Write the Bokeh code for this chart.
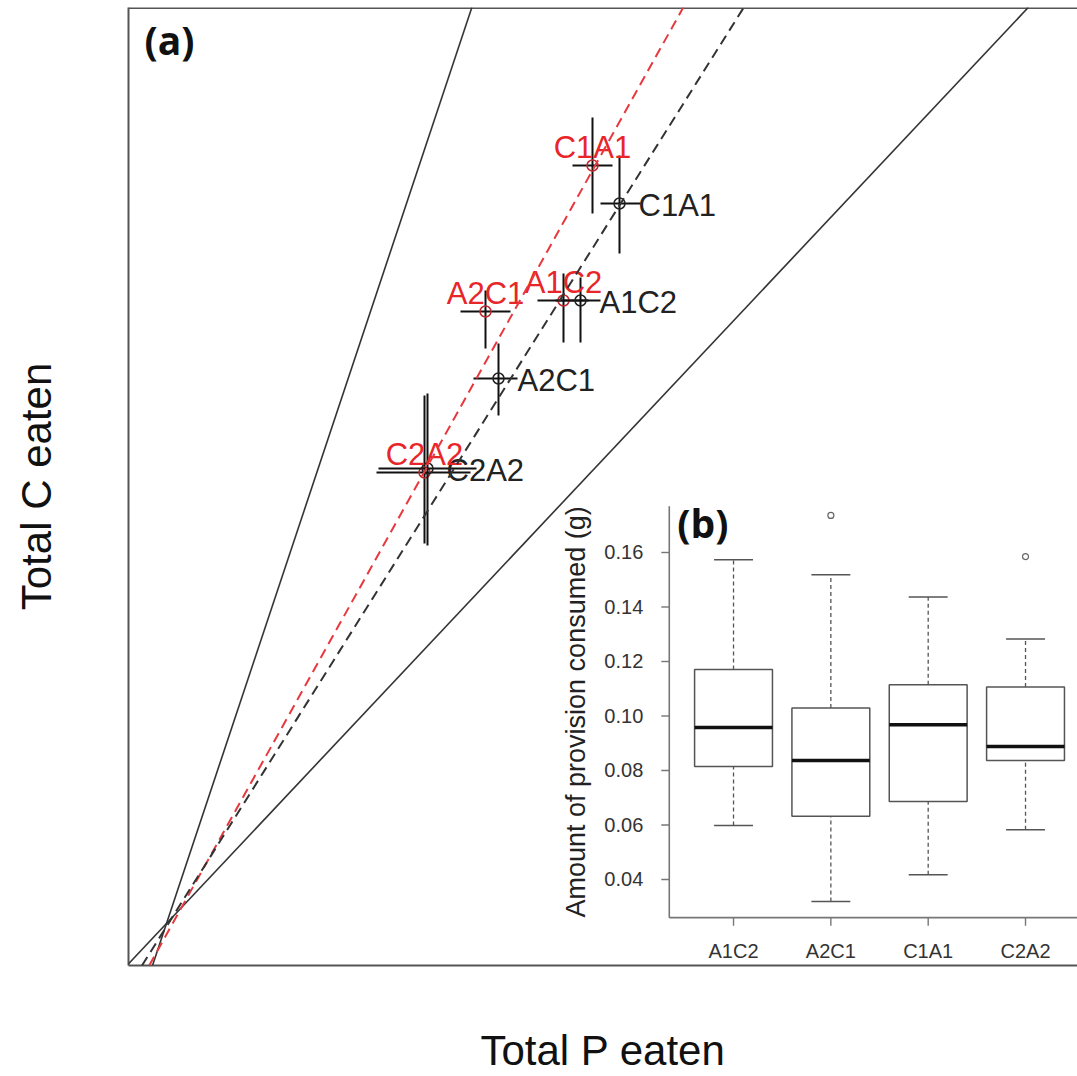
import numpy as np
from bokeh.plotting import figure
from bokeh.models import Range1d, FixedTicker, Span, ColumnDataSource, Slope
from bokeh.transform import dodge
from bokeh.core.properties import value
from bokeh.embed import file_html
from bokeh.resources import INLINE

# ---------------- Panel (a) data ----------------
groups = ["C1A1", "A1C2", "A2C1", "C2A2"]
# black series (Total P eaten, Total C eaten) with error-bar limits
blk_p = [4.53, 4.14, 3.32, 2.61]
blk_c = [7.20, 6.23, 5.45, 4.55]
blk_p_lo = [4.34, 3.89, 3.07, 2.12]
blk_p_hi = [4.74, 4.34, 3.51, 3.10]
blk_c_lo = [6.70, 5.81, 5.08, 3.78]
blk_c_hi = [7.68, 6.46, 5.80, 5.30]
# red series
red_p = [4.26, 3.97, 3.19, 2.58]
red_c = [7.58, 6.23, 6.12, 4.51]
red_p_lo = [4.06, 3.71, 2.94, 2.10]
red_p_hi = [4.46, 4.22, 3.44, 3.04]
red_c_lo = [7.10, 5.81, 5.75, 3.80]
red_c_hi = [8.06, 6.50, 6.33, 5.28]
# reference lines (gradient, intercept)
solid_slopes = [3.0, 1.063]
solid_intercepts = [0.0, 0.0]
blk_fit = (1.592, -0.03)
red_fit = (1.794, -0.11)
main_xlim = (-0.38, 9.11)
main_ylim = (-0.42, 9.16)

# ---------------- Panel (b) data ----------------
box_groups = ["A1C2", "A2C1", "C1A1", "C2A2"]
box_pos = [1, 2, 3, 4]
box_lo = [0.0598, 0.0319, 0.0417, 0.0583]
box_q1 = [0.0815, 0.0632, 0.0686, 0.0837]
box_med = [0.0958, 0.0837, 0.0968, 0.0888]
box_q3 = [0.1171, 0.1029, 0.1115, 0.1106]
box_hi = [0.1573, 0.1518, 0.1437, 0.1283]
out_pos = [2, 4]
out_val = [0.1736, 0.1585]
inset_yticks = [0.04, 0.06, 0.08, 0.10, 0.12, 0.14, 0.16]
inset_ytick_labels = ["0.04", "0.06", "0.08", "0.10", "0.12", "0.14", "0.16"]
inset_xlim = (0.34, 4.66)
inset_ylim = (0.026, 0.177)
# inset coordinate system spread over the whole main frame
inset_frame_x = (-5.216, 4.534)
inset_frame_y = (0.00844, 0.36)

FONT = "Liberation Sans"

p = figure(width=1077, height=1076,
           x_range=Range1d(*main_xlim), y_range=Range1d(*main_ylim),
           output_backend="svg", toolbar_location=None,
           min_border_left=128, min_border_right=0,
           min_border_top=7, min_border_bottom=0)
p.grid.visible = False
p.outline_line_color = None
p.background_fill_color = "white"
p.border_fill_color = "white"

for ax in (p.xaxis[0], p.yaxis[0]):
    ax.ticker = FixedTicker(ticks=[])
    ax.major_tick_line_color = None
    ax.minor_tick_line_color = None
    ax.major_label_text_font_size = "0px"
    ax.axis_line_color = "#555555"
    ax.axis_line_width = 2
    ax.axis_label_text_font = FONT
    ax.axis_label_text_font_size = "42px"
    ax.axis_label_text_font_style = "normal"
    ax.axis_label_text_color = "#111111"
p.xaxis.axis_label = "Total P eaten"
p.yaxis.axis_label = "Total C eaten"
p.xaxis.axis_label_standoff = 61
p.yaxis.axis_label_standoff = 69

p.add_layout(Span(location=main_ylim[1], dimension="width",
                  line_color="#555555", line_width=3))

# reference lines
for g, b in zip(solid_slopes, solid_intercepts):
    p.add_layout(Slope(gradient=g, y_intercept=b, line_color="#333333", line_width=1.6))
p.add_layout(Slope(gradient=red_fit[0], y_intercept=red_fit[1],
                   line_color="#e8383d", line_width=2, line_dash="10 6"))
p.add_layout(Slope(gradient=blk_fit[0], y_intercept=blk_fit[1],
                   line_color="#333333", line_width=2, line_dash="10 6"))

src_blk = ColumnDataSource(dict(g=groups, p=blk_p, c=blk_c, plo=blk_p_lo, phi=blk_p_hi,
                                clo=blk_c_lo, chi=blk_c_hi))
src_red = ColumnDataSource(dict(g=groups, p=red_p, c=red_c, plo=red_p_lo, phi=red_p_hi,
                                clo=red_c_lo, chi=red_c_hi))

for src, col in ((src_red, "#c0282d"), (src_blk, "#222222")):
    p.segment(x0="plo", x1="phi", y0="c", y1="c", source=src, line_color="#111111", line_width=2)
    p.segment(x0="p", x1="p", y0="clo", y1="chi", source=src, line_color="#111111", line_width=2)
    p.scatter(x="p", y="c", source=src, marker="circle", size=11, fill_color=None,
              line_color=col, line_width=1.5)

p.text(x="p", y="c", text="g", source=src_blk, x_offset=19, y_offset=2,
       text_align="left", text_baseline="middle", text_font=value(FONT),
       text_font_size="31px", text_color="#222222")
p.text(x="p", y="c", text="g", source=src_red, x_offset=0, y_offset=-18,
       text_align="center", text_baseline="alphabetic", text_font=value(FONT),
       text_font_size="31px", text_color="#e8262a")

p.text(x=[main_xlim[0]], y=[main_ylim[1]], text=["(a)"], x_offset=16, y_offset=5,
       text_align="left", text_baseline="top", text_font=value("Open Sans"),
       text_font_style="bold", text_font_size="39px", text_color="#111111")

# ---------------- inset (b) ----------------
p.extra_x_ranges = {"ix": Range1d(*inset_frame_x)}
p.extra_y_ranges = {"iy": Range1d(*inset_frame_y)}
kw = dict(x_range_name="ix", y_range_name="iy")

src_b = ColumnDataSource(dict(idx=box_pos, lo=box_lo, q1=box_q1, med=box_med,
                              q3=box_q3, hi=box_hi, name=box_groups))
p.segment(x0="idx", x1="idx", y0="q3", y1="hi", source=src_b, line_color="#555555",
          line_width=1.3, line_dash="4 3", **kw)
p.segment(x0="idx", x1="idx", y0="lo", y1="q1", source=src_b, line_color="#555555",
          line_width=1.3, line_dash="4 3", **kw)
p.segment(x0=dodge("idx", -0.2), x1=dodge("idx", 0.2), y0="hi", y1="hi", source=src_b,
          line_color="#555555", line_width=1.5, **kw)
p.segment(x0=dodge("idx", -0.2), x1=dodge("idx", 0.2), y0="lo", y1="lo", source=src_b,
          line_color="#555555", line_width=1.5, **kw)
p.vbar(x="idx", width=0.8, bottom="q1", top="q3", source=src_b, fill_color="white",
       line_color="#555555", line_width=1.5, **kw)
p.segment(x0=dodge("idx", -0.4), x1=dodge("idx", 0.4), y0="med", y1="med", source=src_b,
          line_color="#111111", line_width=3.5, **kw)
p.scatter(x=out_pos, y=out_val, marker="circle", size=6, fill_color=None,
          line_color="#666666", line_width=1.2, **kw)

# inset axes (L-shaped box)
p.segment(x0=[inset_xlim[0], inset_xlim[0]], y0=[inset_ylim[0], inset_ylim[0]],
          x1=[inset_xlim[0], inset_xlim[1]], y1=[inset_ylim[1], inset_ylim[0]],
          line_color="#777777", line_width=1.6, **kw)
p.ray(x=[inset_xlim[0]] * len(inset_yticks), y=inset_yticks, length=8,
      length_units="screen", angle=np.pi, line_color="#777777", line_width=1.4, **kw)
p.ray(x=box_pos, y=[inset_ylim[0]] * len(box_pos), length=8,
      length_units="screen", angle=-np.pi / 2, line_color="#777777", line_width=1.4, **kw)
p.text(x=[inset_xlim[0]] * len(inset_yticks), y=inset_yticks, text=inset_ytick_labels,
       x_offset=-26, text_align="right", text_baseline="middle", text_font=value(FONT),
       text_font_size="20px", text_color="#333333", **kw)
p.text(x=box_pos, y=[inset_ylim[0]] * len(box_pos), text=box_groups, y_offset=33,
       text_align="center", text_baseline="middle", text_font=value(FONT),
       text_font_size="20px", text_color="#333333", **kw)
p.text(x=[inset_xlim[0]], y=[(inset_ylim[0] + inset_ylim[1]) / 2],
       text=["Amount of provision consumed (g)"], x_offset=-93, angle=np.pi / 2,
       text_align="center", text_baseline="middle", text_font=value(FONT),
       text_font_size="27px", text_color="#222222", **kw)
p.text(x=[inset_xlim[0]], y=[inset_ylim[1]], text=["(b)"], x_offset=8, y_offset=-10,
       text_align="left", text_baseline="top", text_font=value("Open Sans"),
       text_font_style="bold", text_font_size="39px", text_color="#111111", **kw)

open("out.html", "w").write(file_html(p, INLINE))
